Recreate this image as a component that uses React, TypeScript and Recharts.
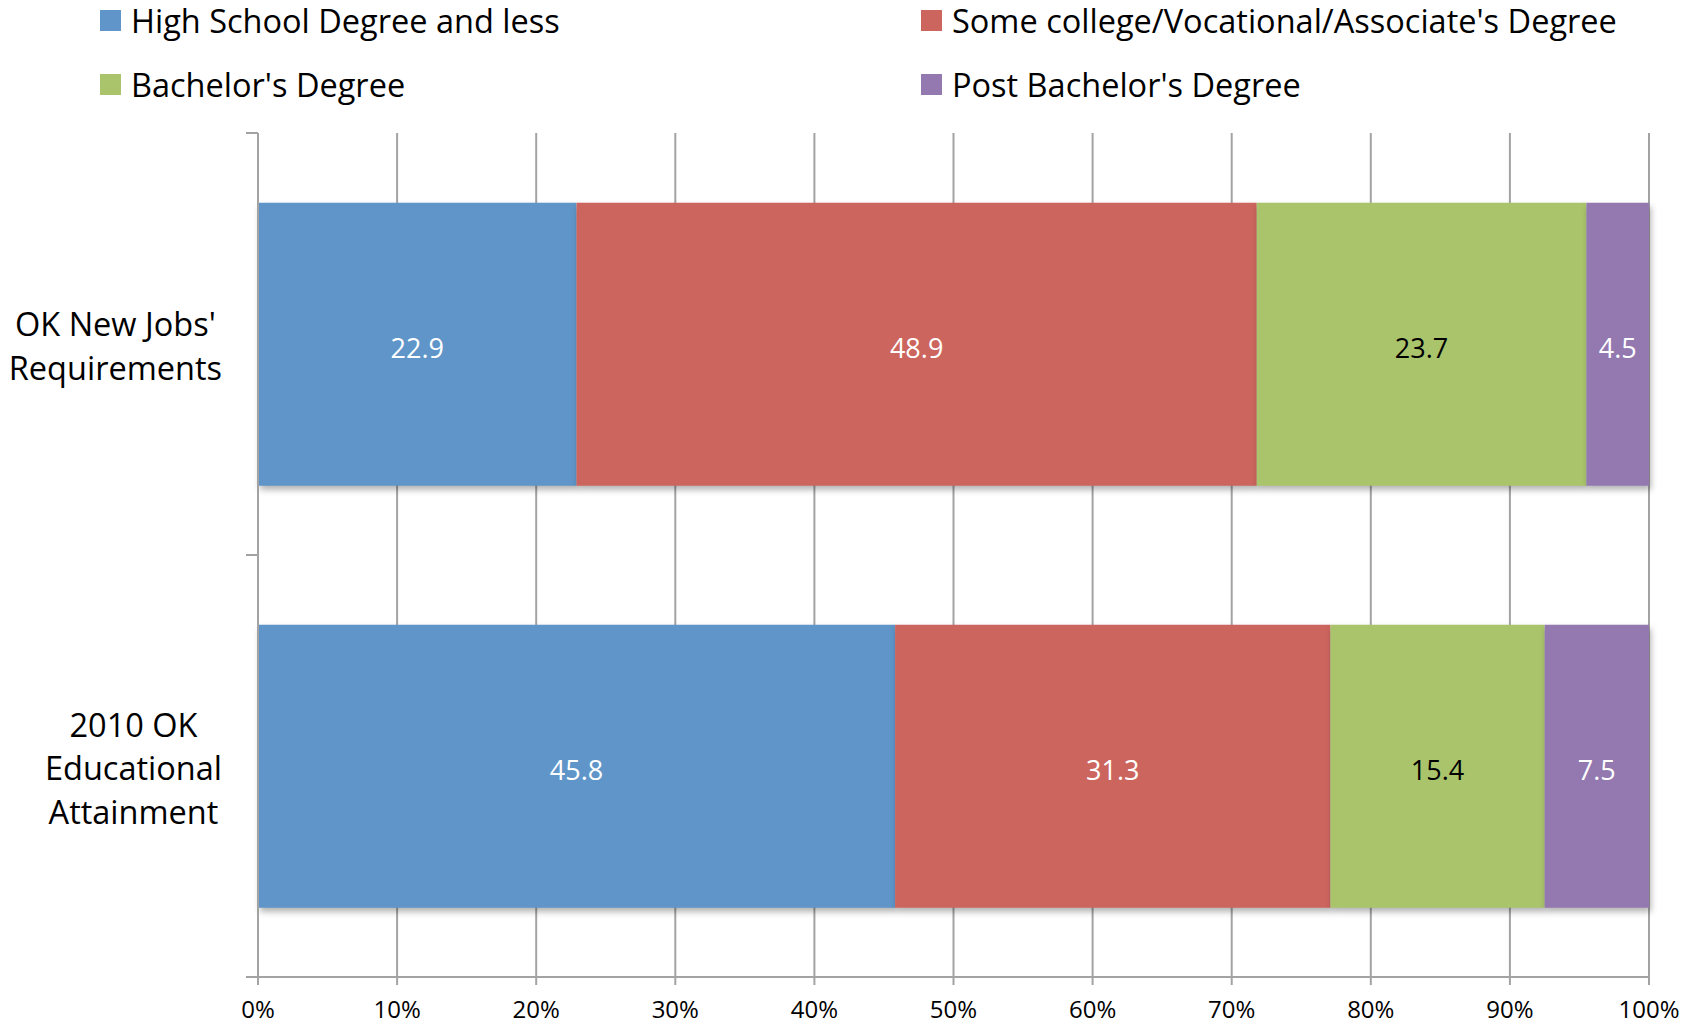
import React from "react";
import {
  BarChart,
  Bar,
  XAxis,
  YAxis,
  CartesianGrid,
  Legend,
  LabelList,
  Rectangle,
} from "recharts";

// rows, top to bottom
const categories = ["OK New Jobs'\nRequirements", "2010 OK\nEducational\nAttainment"];

// share of each education level, percent
const highSchool = [22.9, 45.8];
const someCollege = [48.9, 31.3];
const bachelors = [23.7, 15.4];
const postBachelors = [4.5, 7.5];

const seriesNames = [
  "High School Degree and less",
  "Some college/Vocational/Associate's Degree",
  "Bachelor's Degree",
  "Post Bachelor's Degree",
];
const seriesKeys = ["highSchool", "someCollege", "bachelors", "postBachelors"];
const seriesColors = ["#5f95c8", "#cc655e", "#aac46c", "#9379b0"];
const labelColors = ["#ffffff", "#ffffff", "#000000", "#ffffff"];

const xTicks = [0, 10, 20, 30, 40, 50, 60, 70, 80, 90, 100];

const FONT = "'Open Sans', sans-serif";
const GRID = "#a3a3a3";
const LABEL_GAP = 36; // space between y axis line and category label block
const EDGE_TICK = 12; // length of the y axis tick marks between categories

const data = categories.map((name, i) => ({
  name,
  highSchool: highSchool[i],
  someCollege: someCollege[i],
  bachelors: bachelors[i],
  postBachelors: postBachelors[i],
}));

let measureCtx: CanvasRenderingContext2D | null = null;
function textWidth(text: string, font: string) {
  if (!measureCtx) measureCtx = document.createElement("canvas").getContext("2d");
  if (!measureCtx) return text.length * 16;
  measureCtx.font = font;
  return measureCtx.measureText(text).width;
}

// Excel-style wrapped label: block right aligned, lines centred inside it.
// Also draws the axis tick marks on the band edges (Excel puts them between categories).
function CategoryTick(props: any) {
  const { x, y, payload } = props;
  const lines: string[] = String(payload.value).split("\n");
  const size = 32.5;
  const lineHeight = 43.5;
  const widest = Math.max(...lines.map((l) => textWidth(l, `${size}px 'Open Sans'`)));
  const cx = x - widest / 2;
  const half = payload.offset || 0;
  const axisX = x + LABEL_GAP;
  return (
    <g>
      {half > 0 &&
        [y - half, y + half].map((ty, i) => (
          <line
            key={`t${i}`}
            x1={axisX - EDGE_TICK}
            x2={axisX}
            y1={ty}
            y2={ty}
            stroke={GRID}
            strokeWidth={2}
          />
        ))}
      {lines.map((line, i) => (
        <text
          key={i}
          x={cx}
          y={y + (i - (lines.length - 1) / 2) * lineHeight + 14}
          textAnchor="middle"
          fontSize={size}
          fontFamily={FONT}
          fill="#000"
        >
          {line}
        </text>
      ))}
    </g>
  );
}

function LegendBox() {
  return (
    <div
      style={{
        height: 120,
        display: "grid",
        gridTemplateColumns: "821px 1fr",
        gridAutoRows: "40px",
        rowGap: 24,
        paddingLeft: 100,
        boxSizing: "border-box",
        fontFamily: FONT,
        fontSize: 32.5,
        color: "#000",
      }}
    >
      {seriesNames.map((n, i) => (
        <div key={n} style={{ display: "flex", alignItems: "center", gap: 10 }}>
          <span style={{ width: 21, height: 21, background: seriesColors[i], flex: "none" }} />
          <span style={{ whiteSpace: "nowrap" }}>{n}</span>
        </div>
      ))}
    </div>
  );
}

const shadowBar = (p: any) => (
  <Rectangle {...p} style={{ filter: "drop-shadow(2px 4px 3px rgba(0,0,0,0.3))" }} />
);

export default function App() {
  return (
    <div style={{ position: "absolute", left: 0, top: 0 }}>
      <BarChart
        width={1696}
        height={1026}
        data={data}
        layout="vertical"
        margin={{ top: 13, right: 47, bottom: 0, left: 0 }}
        barCategoryGap="16.5%"
      >
        <Legend
          verticalAlign="top"
          content={() => <LegendBox />}
          wrapperStyle={{ top: 0, left: 0, width: 1696 }}
        />
        <CartesianGrid horizontal={false} stroke={GRID} strokeWidth={2} />
        <XAxis
          type="number"
          domain={[0, 100]}
          ticks={xTicks}
          tickFormatter={(v) => `${v}%`}
          height={49}
          tickSize={8}
          tickMargin={16}
          stroke={GRID}
          strokeWidth={2}
          tick={{ fill: "#000", fontSize: 24, fontFamily: FONT }}
          interval={0}
        />
        <YAxis
          type="category"
          dataKey="name"
          width={258}
          stroke={GRID}
          strokeWidth={2}
          tickLine={false}
          tickSize={0}
          tickMargin={LABEL_GAP}
          tick={<CategoryTick />}
          interval={0}
        />
        {seriesKeys.map((k, i) => (
          <Bar
            key={k}
            dataKey={k}
            name={seriesNames[i]}
            stackId="a"
            fill={seriesColors[i]}
            shape={shadowBar}
            isAnimationActive={false}
          >
            <LabelList
              dataKey={k}
              position="center"
              fill={labelColors[i]}
              fontSize={27}
              fontFamily={FONT}
              dy={4}
            />
          </Bar>
        ))}
      </BarChart>
    </div>
  );
}
